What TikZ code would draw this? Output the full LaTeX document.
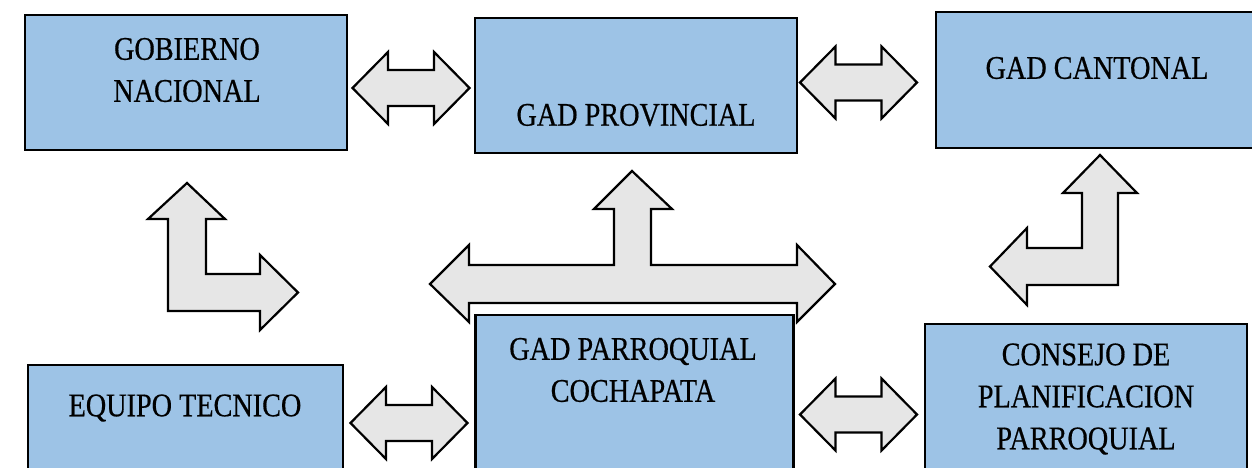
\documentclass[tikz,border=0pt]{standalone}
\usepackage{fontspec}
\setmainfont{Liberation Serif}[FakeStretch=0.855,FakeBold=0.5]
\definecolor{boxblue}{HTML}{9DC3E6}
\definecolor{arrowgray}{HTML}{E6E6E6}
\tikzset{
  box/.style={draw=black, line width=2.6pt, fill=boxblue, inner sep=0pt, rectangle},
  lbl/.style={align=center, inner sep=0pt, font=\fontsize{33}{42}\selectfont},
  blockarrow/.style={draw=black, line width=2.2pt, fill=arrowgray, line join=miter},
  dblarr/.pic={
    \draw[blockarrow] (-58.5,0) -- (-23,-36) -- (-23,-18) -- (23,-18) -- (23,-36) -- (58.5,0)
      -- (23,36) -- (23,18) -- (-23,18) -- (-23,36) -- cycle;
  }
}
\begin{document}
\begin{tikzpicture}[x=1pt,y=-1pt]
\useasboundingbox (0,0) rectangle (1252,468);
\clip (0,0) rectangle (1252,468);
% boxes
\node[box, minimum width=322pt, minimum height=135pt] (gn) at (186,82.5) {};
\node[box, minimum width=322pt, minimum height=135pt] (gp) at (636,85.5) {};
\node[box, minimum width=320pt, minimum height=136pt] (gc) at (1096,80) {};
\node[box, minimum width=315pt, minimum height=130pt] (et) at (185.5,430) {};
\node[box, minimum width=318pt, minimum height=170pt] (gpc) at (634.5,400) {};
\node[box, minimum width=322pt, minimum height=160pt] (cp) at (1086,404) {};
% labels
\node[lbl] (tgn) at (187,70) {GOBIERNO\\NACIONAL};
\node[lbl] (tgp) at (636,115) {GAD PROVINCIAL};
\node[lbl] (tgc) at (1097,68) {GAD CANTONAL};
\node[lbl] (tet) at (185,408) {EQUIPO TECNICO};
\node[lbl] (tgpc) at (633,370) {GAD PARROQUIAL\\COCHAPATA};
\node[lbl] (tcp) at (1086,399) {CONSEJO DE\\PLANIFICACION\\PARROQUIAL};
% horizontal double arrows
\pic (a1) at (411,88) {dblarr};
\pic (a2) at (858.5,82.5) {dblarr};
\pic (a3) at (409,423) {dblarr};
\pic (a4) at (858.5,414.5) {dblarr};
% T arrow
\draw[blockarrow] (430,284) -- (469,245) -- (469,265) -- (614,265) -- (614,209) -- (594,209)
  -- (632,171) -- (672,209) -- (651,209) -- (651,265) -- (797,265) -- (797,245) -- (835,284)
  -- (797,322) -- (797,303) -- (469,303) -- (469,322) -- cycle;
% left L arrow
\draw[blockarrow] (187,183) -- (225,219) -- (206,219) -- (206,274) -- (260,274) -- (260,255)
  -- (298,292.5) -- (260,330) -- (260,311) -- (168,311) -- (168,219) -- (148,219) -- cycle;
% right L arrow
\draw[blockarrow] (1100,155) -- (1137,193) -- (1118,193) -- (1118,285) -- (1027,285) -- (1027,305)
  -- (990,266.5) -- (1027,228) -- (1027,248) -- (1082,248) -- (1082,193) -- (1063,193) -- cycle;
\end{tikzpicture}
\end{document}
